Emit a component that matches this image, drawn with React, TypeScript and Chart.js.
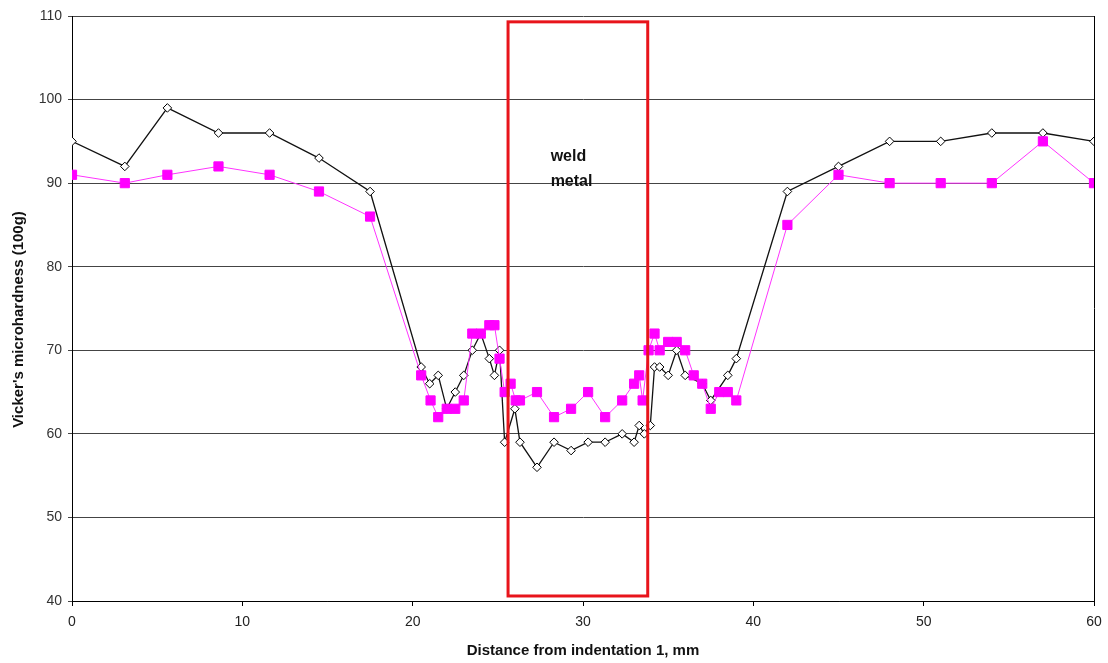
import React, { useEffect, useRef } from "react";
import { Chart, registerables } from "chart.js";

Chart.register(...registerables);

const blackX = [0, 3.1, 5.6, 8.6, 11.6, 14.5, 17.5, 20.5, 21.0, 21.5, 22.0, 22.5, 23.0, 23.5, 24.0, 24.5, 24.8, 25.1, 25.4, 26.0, 26.3, 27.3, 28.3, 29.3, 30.3, 31.3, 32.3, 33.0, 33.3, 33.6, 33.95, 34.2, 34.5, 35.0, 35.5, 36.0, 37.0, 37.5, 38.5, 39.0, 42.0, 45.0, 48.0, 51.0, 54.0, 57.0, 60];
const blackY = [95, 92, 99, 96, 96, 93, 89, 68, 66, 67, 63, 65, 67, 70, 72, 69, 67, 70, 59, 63, 59, 56, 59, 58, 59, 59, 60, 59, 61, 60, 61, 68, 68, 67, 70, 67, 66, 64, 67, 69, 89, 92, 95, 95, 96, 96, 95];

const pinkX = [0, 3.1, 5.6, 8.6, 11.6, 14.5, 17.5, 20.5, 21.05, 21.5, 22.0, 22.5, 23.0, 23.5, 24.0, 24.5, 24.8, 25.1, 25.4, 25.75, 26.05, 26.3, 27.3, 28.3, 29.3, 30.3, 31.3, 32.3, 33.0, 33.3, 33.5, 33.85, 34.2, 34.5, 35.0, 35.5, 36.0, 36.5, 37.0, 37.5, 38.0, 38.5, 39.0, 42.0, 45.0, 48.0, 51.0, 54.0, 57.0, 60];
const pinkY = [91, 90, 91, 92, 91, 89, 86, 67, 64, 62, 63, 63, 64, 72, 72, 73, 73, 69, 65, 66, 64, 64, 65, 62, 63, 65, 62, 64, 66, 67, 64, 70, 72, 70, 71, 71, 70, 67, 66, 63, 65, 65, 64, 85, 91, 90, 90, 90, 95, 90];

const weldX = [25.6, 33.8];
const weldY = [40.6, 109.3];
const weldLabel = ["weld", "metal"];
const weldLabelPos = { x: 28.1, y: [93.15, 90.15] };

const xTitle = "Distance from indentation 1, mm";
const yTitle = "Vicker's microhardness (100g)";

const FONT = "'Liberation Sans', Arial, sans-serif";

const overlayPlugin = {
  id: "overlay",
  afterDatasetsDraw(chart: any) {
    const { ctx, chartArea, scales } = chart;
    const xs = scales.x;
    const ys = scales.y;
    ctx.save();
    // right border
    ctx.strokeStyle = "#000";
    ctx.lineWidth = 1;
    ctx.beginPath();
    ctx.moveTo(Math.round(chartArea.right) + 0.5, chartArea.top);
    ctx.lineTo(Math.round(chartArea.right) + 0.5, chartArea.bottom);
    ctx.stroke();
    // weld region rectangle
    const x0 = xs.getPixelForValue(weldX[0]);
    const x1 = xs.getPixelForValue(weldX[1]);
    const y0 = ys.getPixelForValue(weldY[1]);
    const y1 = ys.getPixelForValue(weldY[0]);
    ctx.strokeStyle = "#e8141b";
    ctx.lineWidth = 3;
    ctx.strokeRect(x0, y0, x1 - x0, y1 - y0);
    // label
    ctx.fillStyle = "#111";
    ctx.font = `bold 16px ${FONT}`;
    ctx.textBaseline = "middle";
    ctx.textAlign = "left";
    weldLabel.forEach((t, i) => {
      ctx.fillText(t, xs.getPixelForValue(weldLabelPos.x), ys.getPixelForValue(weldLabelPos.y[i]));
    });
    // y axis title
    ctx.translate(chartArea.left - 53, (chartArea.top + chartArea.bottom) / 2 + 11);
    ctx.rotate(-Math.PI / 2);
    ctx.textAlign = "center";
    ctx.font = `bold 15px ${FONT}`;
    ctx.fillText(yTitle, 0, 0);
    ctx.restore();
  },
};

export default function App() {
  const ref = useRef<HTMLCanvasElement>(null);
  useEffect(() => {
    document.body.style.margin = "0";
    const canvas = ref.current!;
    const chart = new Chart(canvas, {
      type: "line",
      data: {
        datasets: [
          {
            data: pinkX.map((x, i) => ({ x, y: pinkY[i] })),
            borderColor: "#ff33ff",
            borderWidth: 1,
            pointStyle: "rect",
            pointRadius: 6.5,
            pointBackgroundColor: "#ff00ff",
            pointBorderColor: "#ff00ff",
            pointBorderWidth: 1,
            tension: 0,
          },
          {
            data: blackX.map((x, i) => ({ x, y: blackY[i] })),
            borderColor: "#111",
            borderWidth: 1.3,
            pointStyle: "rectRot",
            pointRadius: 4.3,
            pointBackgroundColor: "#fff",
            pointBorderColor: "#000",
            pointBorderWidth: 1,
            tension: 0,
          },
        ],
      },
      options: {
        animation: false,
        responsive: false,
        devicePixelRatio: 1,
        layout: { padding: { left: 0, right: 14, top: 16, bottom: 0 } },
        plugins: { legend: { display: false }, tooltip: { enabled: false } },
        scales: {
          x: {
            type: "linear",
            min: 0,
            max: 60,
            afterFit: (s: any) => { s.height = 62; s.paddingRight = 0; s.paddingLeft = 0; },
            ticks: { stepSize: 10, color: "#222", font: { size: 14, family: FONT }, padding: 8, maxRotation: 0 },
            grid: { drawOnChartArea: false, drawTicks: true, tickLength: 5, color: "#000" },
            border: { display: true, color: "#000", width: 1 },
            title: { display: true, text: xTitle, color: "#111", font: { size: 15, weight: "bold", family: FONT }, padding: { top: 0, bottom: 3 } },
          },
          y: {
            min: 40,
            max: 110,
            afterFit: (s: any) => { s.width = 72; s.paddingTop = 0; s.paddingBottom = 0; },
            ticks: { stepSize: 10, color: "#333", font: { size: 14, family: FONT }, padding: 6 },
            grid: { drawOnChartArea: true, drawTicks: true, tickLength: 4, color: "#444", lineWidth: 1 },
            border: { display: true, color: "#000", width: 1 },
            title: { display: false },
          },
        },
      },
      plugins: [overlayPlugin],
    });
    return () => chart.destroy();
  }, []);
  return <canvas ref={ref} width={1108} height={663} style={{ display: "block" }} />;
}
